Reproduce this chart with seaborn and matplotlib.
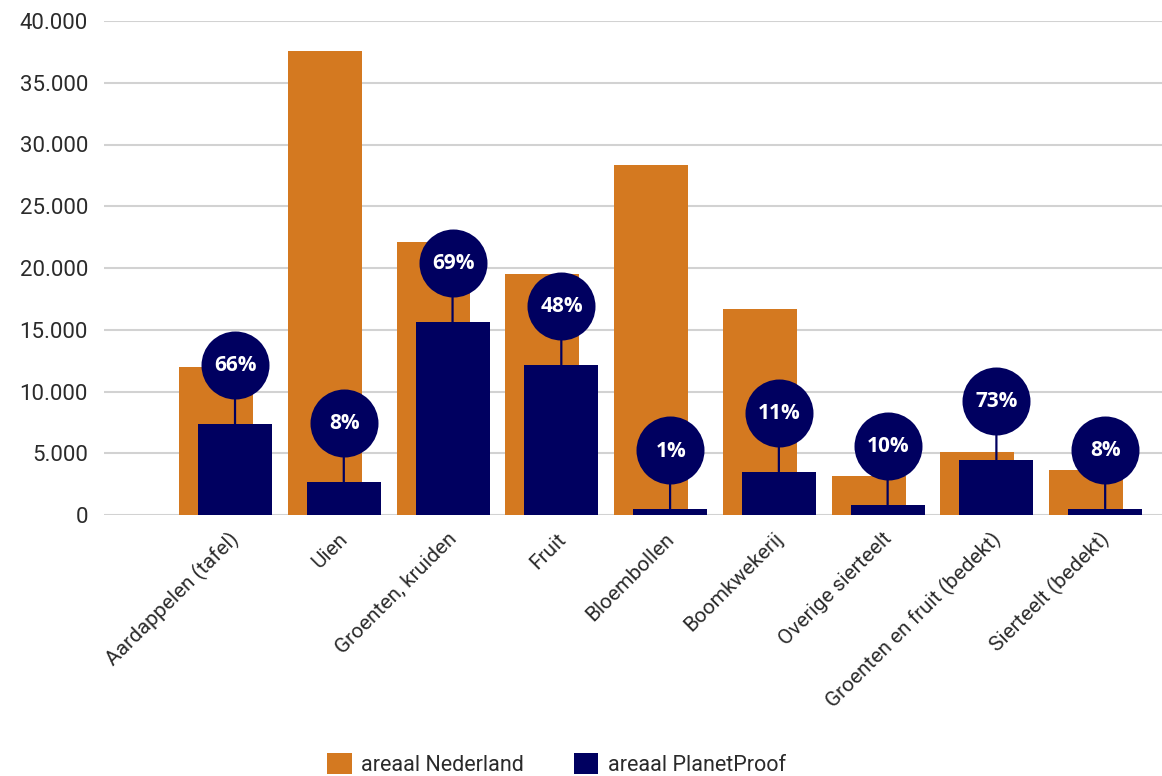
import numpy as np
import pandas as pd
import seaborn as sns
import matplotlib
matplotlib.use("Agg")
import matplotlib.pyplot as plt
from matplotlib.patches import Patch
from matplotlib.transforms import offset_copy

# ---- data ----
categories = ["Aardappelen (tafel)", "Uien", "Groenten, kruiden", "Fruit",
              "Bloembollen", "Boomkwekerij", "Overige sierteelt",
              "Groenten en fruit (bedekt)", "Sierteelt (bedekt)"]
areaal_nederland = [12000, 37600, 22100, 19520, 28360, 16700, 3120, 5140, 3610]
areaal_planetproof = [7380, 2700, 15640, 12170, 460, 3520, 840, 4480, 520]
percentages = ["66%", "8%", "69%", "48%", "1%", "11%", "10%", "73%", "8%"]
y_ticks = [0, 5000, 10000, 15000, 20000, 25000, 30000, 35000, 40000]
y_tick_labels = ["0", "5.000", "10.000", "15.000", "20.000", "25.000",
                 "30.000", "35.000", "40.000"]
series_names = ["areaal Nederland", "areaal PlanetProof"]

ORANGE = "#D47920"
NAVY = "#000060"
GRID = "#d2d2d2"
TEXT = "#2b2b2b"

sns.set_theme(style="white")
plt.rcParams['font.family'] = ['Roboto', 'DejaVu Sans']

W, H = 1162, 776
fig = plt.figure(figsize=(W / 100, H / 100), dpi=100)
y0_px, y40_px, left_px = 515.0, 21.0, 104
ax = fig.add_axes([left_px / W, (H - y0_px) / H, 1 - left_px / W, (y0_px - y40_px) / H])

idx = np.arange(len(categories))
shift = 0.0875
df = pd.DataFrame({
    "pos_nl": idx - shift,
    "pos_pp": idx + shift,
    "nl": areaal_nederland,
    "pp": areaal_planetproof,
})

sns.barplot(data=df, x="pos_nl", y="nl", native_scale=True, width=0.68,
            color=ORANGE, saturation=1, errorbar=None, ax=ax, zorder=2,
            linewidth=0, edgecolor="none")
sns.barplot(data=df, x="pos_pp", y="pp", native_scale=True, width=0.68,
            color=NAVY, saturation=1, errorbar=None, ax=ax, zorder=3,
            linewidth=0, edgecolor="none")

# bubbles with percentages
lift_px = 59
for xp, yv, pct in zip(df["pos_pp"], df["pp"], percentages):
    ax.annotate("", xy=(xp, yv), xytext=(0, lift_px * 0.72), textcoords="offset points",
                arrowprops=dict(arrowstyle="-", color=NAVY, lw=1.6, shrinkA=0, shrinkB=0),
                zorder=4, annotation_clip=False)
    ax.plot([xp], [yv], marker="o", ms=68 * 0.72, color=NAVY, mew=0,
            transform=offset_copy(ax.transData, fig=fig, x=0, y=lift_px, units="dots"),
            clip_on=False, zorder=5)
    ax.annotate(pct, xy=(xp, yv), xytext=(0.5, lift_px * 0.72 - 0.5), textcoords="offset points",
                ha="center", va="center", color="white", fontweight="bold", fontsize=15,
                family=["Open Sans", "DejaVu Sans"], zorder=6, annotation_clip=False)

ax.set_ylim(0, 40000)
ax.set_xlim(-1.117, 8.61)
ax.set_yticks(y_ticks)
ax.set_yticklabels(y_tick_labels, fontsize=16, color=TEXT)
label_nudge = 0.1
ax.set_xticks(idx + label_nudge)
ax.set_xticklabels(categories, rotation=45, ha="right", va="center",
                   rotation_mode="anchor", fontsize=15, color=TEXT)
ax.tick_params(axis="y", length=0, pad=11.5)
ax.tick_params(axis="x", length=0, pad=15)
ax.set_xlabel("")
ax.set_ylabel("")
ax.yaxis.grid(True, color=GRID, lw=1.5, zorder=0)
ax.xaxis.grid(False)
ax.set_axisbelow(True)
for s in ax.spines.values():
    s.set_visible(False)

handles = [Patch(facecolor=ORANGE, edgecolor="none"), Patch(facecolor=NAVY, edgecolor="none")]
fig.legend(handles, series_names, loc="lower center", bbox_to_anchor=(0.479, -0.025),
           ncol=2, frameon=False, fontsize=15.5, handlelength=1.15, handleheight=1.15,
           handletextpad=0.45, columnspacing=2.3, labelcolor=TEXT)

fig.savefig("out.png", dpi=100)
